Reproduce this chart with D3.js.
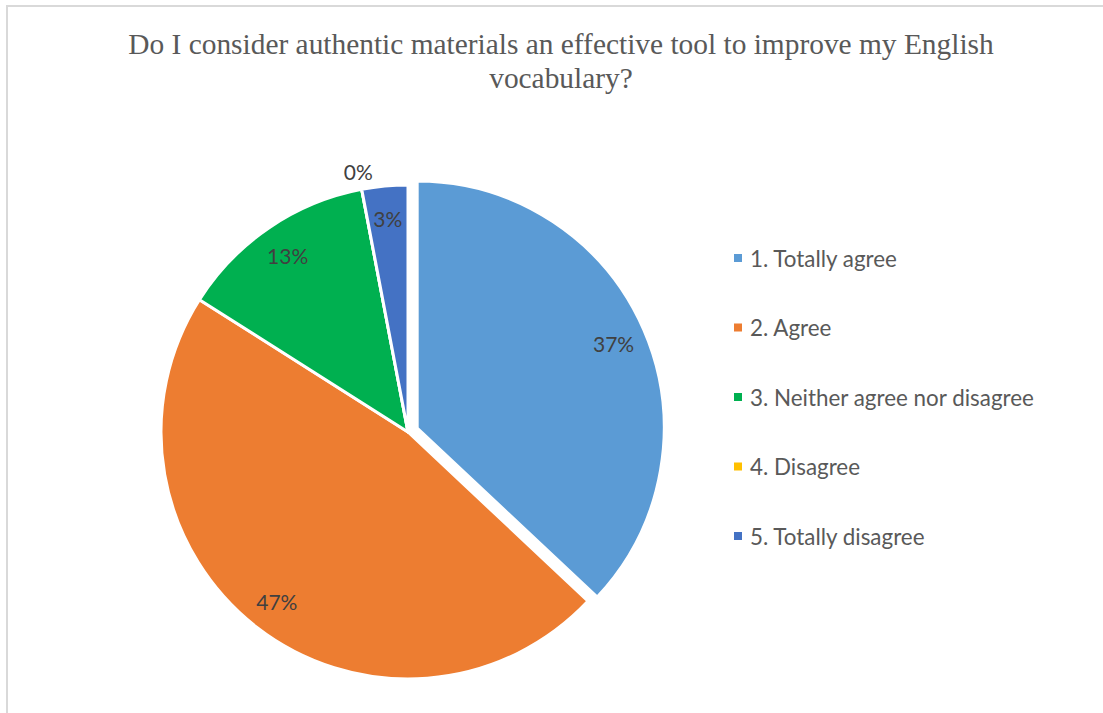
<!DOCTYPE html>
<html>
<head>
<meta charset="utf-8">
<script src="https://cdn.jsdelivr.net/npm/d3@7"></script>
<style>
  html, body { margin: 0; padding: 0; background: #fff; }
  svg { display: block; }
</style>
</head>
<body>
<svg id="chart" width="1103" height="713"></svg>
<script>
// Survey responses (percent of respondents)
const categories = [
  "1. Totally agree",
  "2. Agree",
  "3. Neither agree nor disagree",
  "4. Disagree",
  "5. Totally disagree"
];
const values = [37, 47, 13, 0, 3];
const colors = ["#5B9BD5", "#ED7D31", "#00B050", "#FFC000", "#4472C4"];
const titleLines = [
  "Do I consider authentic materials an effective tool to improve my English",
  "vocabulary?"
];

const svg = d3.select("#chart");
const W = 1103, H = 713;

// chart frame
svg.append("rect")
  .attr("x", 7).attr("y", 6)
  .attr("width", W + 50).attr("height", H + 50)
  .attr("fill", "#fff")
  .attr("stroke", "#d9d9d9")
  .attr("stroke-width", 2);

// title
const title = svg.append("text")
  .attr("text-anchor", "middle")
  .attr("font-family", "'Liberation Serif', 'Times New Roman', serif")
  .attr("font-size", 29.4)
  .attr("fill", "#595959");
titleLines.forEach((t, i) => {
  title.append("tspan").attr("x", 561).attr("y", 54 + i * 34).text(t);
});

// pie
const cx = 408, cy = 432, R = 247;
const explode = [10, 0, 0, 0, 0];
const pie = d3.pie().sort(null).value(d => d);
const arcs = pie(values);
const arc = d3.arc().innerRadius(0).outerRadius(R);

const g = svg.append("g").attr("transform", `translate(${cx},${cy})`);

function offset(d, r) {
  const a = (d.startAngle + d.endAngle) / 2;
  return [Math.sin(a) * r, -Math.cos(a) * r];
}

g.selectAll("path.slice")
  .data(arcs)
  .join("path")
  .attr("class", "slice")
  .attr("d", arc)
  .attr("fill", (d, i) => colors[i])
  .attr("stroke", "#fff")
  .attr("stroke-width", 3)
  .attr("stroke-linejoin", "round")
  .attr("transform", (d, i) => {
    const [dx, dy] = offset(d, explode[i]);
    return `translate(${dx},${dy})`;
  });

// data labels: inside the slice, or just outside the rim for empty slices
const labelR = arcs.map(d => d.value === 0 ? 265 : 214);
g.selectAll("text.lbl")
  .data(arcs)
  .join("text")
  .attr("class", "lbl")
  .attr("text-anchor", "middle")
  .attr("dominant-baseline", "central")
  .attr("font-family", "Lato, 'Open Sans', sans-serif")
  .attr("font-size", 21)
  .attr("fill", "#404040")
  .attr("transform", (d, i) => {
    const [x, y] = offset(d, labelR[i] + explode[i]);
    return `translate(${x},${y})`;
  })
  .text(d => d.value + "%");

// legend
const legendY = d3.scalePoint().domain(categories).range([258, 536]);
const lg = svg.append("g");
const items = lg.selectAll("g.item")
  .data(categories)
  .join("g")
  .attr("class", "item")
  .attr("transform", d => `translate(734,${legendY(d)})`);
items.append("rect")
  .attr("x", 0).attr("y", -4)
  .attr("width", 8).attr("height", 8)
  .attr("fill", (d, i) => colors[i]);
items.append("text")
  .attr("x", 16)
  .attr("dominant-baseline", "central")
  .attr("font-family", "Lato, 'Open Sans', sans-serif")
  .attr("font-size", 22.4)
  .attr("fill", "#595959")
  .text(d => d);
</script>
</body>
</html>
